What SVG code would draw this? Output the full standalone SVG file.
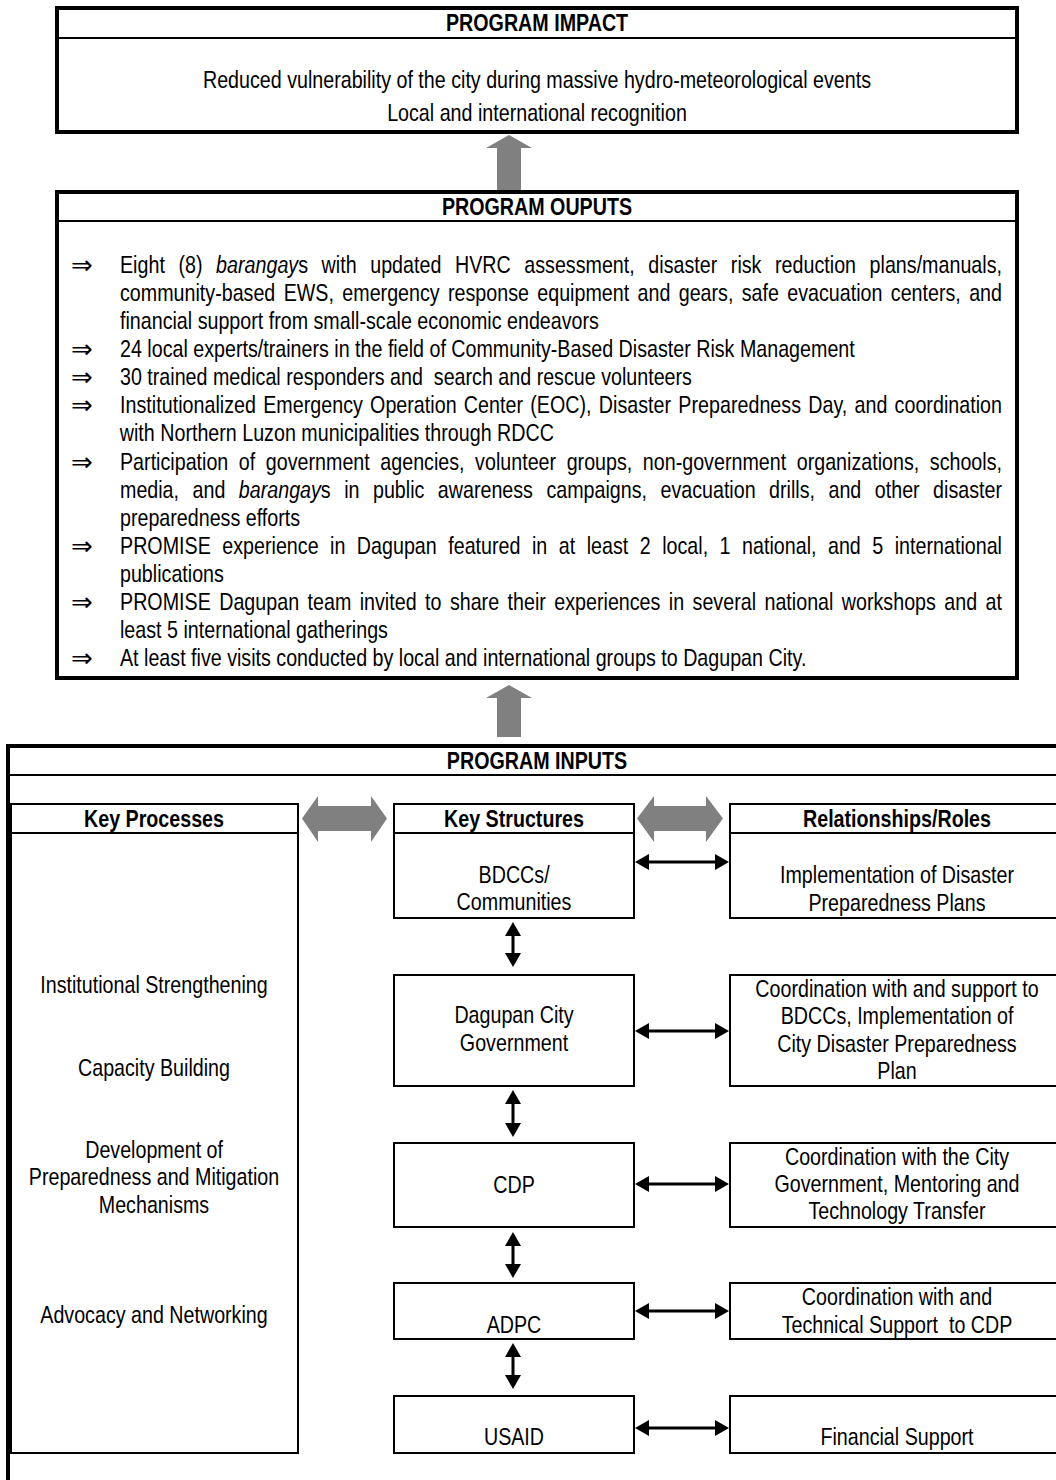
<svg xmlns="http://www.w3.org/2000/svg" width="1056" height="1480" viewBox="0 0 1056 1480">
<defs>
<style>
.t{font-family:'Liberation Sans Narrow','Arial Narrow','Liberation Sans',Arial,sans-serif;font-size:24px;fill:#000;white-space:pre;transform-box:fill-box;transform:scaleX(0.82);transform-origin:50% 50%}
.l{transform-origin:0 50%}
.b{font-weight:bold}
.c{text-anchor:middle}
.sym{font-family:'DejaVu Sans',sans-serif;font-size:26px;fill:#000}
.outer{fill:#fff;stroke:#000;stroke-width:4}
.box{fill:#fff;stroke:#000;stroke-width:2}
.sep{stroke:#000;stroke-width:2}
.gray{fill:#808080;stroke:none}
.con{stroke:#000;stroke-width:3;fill:none}
</style>
<marker id="ah" viewBox="0 0 14 16" refX="0" refY="8" markerWidth="14" markerHeight="16" markerUnits="userSpaceOnUse" orient="auto-start-reverse">
<path d="M0,0 L14,8 L0,16 z" fill="#000"/>
</marker>
</defs>
<rect width="1056" height="1480" fill="#fff"/>

<g id="impact">
<rect class="outer" x="57" y="8" width="960" height="124"/>
<line class="sep" x1="57" y1="38" x2="1017" y2="38"/>
<text class="t b c" x="537" y="31">PROGRAM IMPACT</text>
<text class="t c" x="537" y="88">Reduced vulnerability of the city during massive hydro-meteorological events</text>
<text class="t c" x="537" y="121">Local and international recognition</text>
</g>

<g id="outputs">
<rect class="outer" x="57" y="192" width="960" height="486"/>
<line class="sep" x1="57" y1="221" x2="1017" y2="221"/>
<text class="t b c" x="537" y="215">PROGRAM OUPUTS</text>
<g class="sym">
<text x="71" y="274">⇒</text>
<text x="71" y="358">⇒</text>
<text x="71" y="386">⇒</text>
<text x="71" y="414">⇒</text>
<text x="71" y="471">⇒</text>
<text x="71" y="555">⇒</text>
<text x="71" y="611">⇒</text>
<text x="71" y="667">⇒</text>
</g>
<text class="t l" x="120" y="273" style="word-spacing:9.9px" textLength="1075.6" lengthAdjust="spacing">Eight (8) <tspan font-style="italic">barangay</tspan>s with updated HVRC assessment, disaster risk reduction plans/manuals,</text>
<text class="t l" x="120" y="301" style="word-spacing:3.5px" textLength="1075.6" lengthAdjust="spacing">community-based EWS, emergency response equipment and gears, safe evacuation centers, and</text>
<text class="t l" x="120" y="329">financial support from small-scale economic endeavors</text>
<text class="t l" x="120" y="357">24 local experts/trainers in the field of Community-Based Disaster Risk Management</text>
<text class="t l" x="120" y="385">30 trained medical responders and  search and rescue volunteers</text>
<text class="t l" x="120" y="413" style="word-spacing:2.1px" textLength="1075.6" lengthAdjust="spacing">Institutionalized Emergency Operation Center (EOC), Disaster Preparedness Day, and coordination</text>
<text class="t l" x="120" y="441">with Northern Luzon municipalities through RDCC</text>
<text class="t l" x="120" y="470" style="word-spacing:6.2px" textLength="1075.6" lengthAdjust="spacing">Participation of government agencies, volunteer groups, non-government organizations, schools,</text>
<text class="t l" x="120" y="498" style="word-spacing:9.8px" textLength="1075.6" lengthAdjust="spacing">media, and <tspan font-style="italic">barangay</tspan>s in public awareness campaigns, evacuation drills, and other disaster</text>
<text class="t l" x="120" y="526">preparedness efforts</text>
<text class="t l" x="120" y="554" style="word-spacing:7.3px" textLength="1075.6" lengthAdjust="spacing">PROMISE experience in Dagupan featured in at least 2 local, 1 national, and 5 international</text>
<text class="t l" x="120" y="582">publications</text>
<text class="t l" x="120" y="610" style="word-spacing:3.6px" textLength="1075.6" lengthAdjust="spacing">PROMISE Dagupan team invited to share their experiences in several national workshops and at</text>
<text class="t l" x="120" y="638">least 5 international gatherings</text>
<text class="t l" x="120" y="666">At least five visits conducted by local and international groups to Dagupan City.</text>
</g>

<g id="inputs">
<rect class="outer" x="8" y="746" width="1060" height="760"/>
<line class="sep" x1="8" y1="775" x2="1056" y2="775"/>
<text class="t b c" x="537" y="769">PROGRAM INPUTS</text>
</g>

<g id="key-processes">
<rect class="box" x="11" y="804" width="287" height="649"/>
<line class="sep" x1="11" y1="833" x2="298" y2="833"/>
<text class="t b c" x="154" y="827">Key Processes</text>
<text class="t c" x="154" y="993">Institutional Strengthening</text>
<text class="t c" x="154" y="1076">Capacity Building</text>
<text class="t c" x="154" y="1158">Development of</text>
<text class="t c" x="154" y="1185">Preparedness and Mitigation</text>
<text class="t c" x="154" y="1213">Mechanisms</text>
<text class="t c" x="154" y="1323">Advocacy and Networking</text>
</g>

<g id="bdccs">
<rect class="box" x="394" y="804" width="240" height="114"/>
<line class="sep" x1="394" y1="833" x2="634" y2="833"/>
<text class="t b c" x="514" y="827">Key Structures</text>
<text class="t c" x="514" y="883">BDCCs/</text>
<text class="t c" x="514" y="910">Communities</text>
</g>
<g id="dagupan">
<rect class="box" x="394" y="975" width="240" height="111"/>
<text class="t c" x="514" y="1023">Dagupan City</text>
<text class="t c" x="514" y="1051">Government</text>
</g>
<g id="cdp">
<rect class="box" x="394" y="1143" width="240" height="84"/>
<text class="t c" x="514" y="1193">CDP</text>
</g>
<g id="adpc">
<rect class="box" x="394" y="1283" width="240" height="56"/>
<text class="t c" x="514" y="1333">ADPC</text>
</g>
<g id="usaid">
<rect class="box" x="394" y="1396" width="240" height="57"/>
<text class="t c" x="514" y="1445">USAID</text>
</g>

<g id="role-bdccs">
<rect class="box" x="730" y="804" width="334" height="114"/>
<line class="sep" x1="730" y1="833" x2="1064" y2="833"/>
<text class="t b c" x="897" y="827">Relationships/Roles</text>
<text class="t c" x="897" y="883">Implementation of Disaster</text>
<text class="t c" x="897" y="911">Preparedness Plans</text>
</g>
<g id="role-dagupan">
<rect class="box" x="730" y="975" width="334" height="111"/>
<text class="t c" x="897" y="997">Coordination with and support to</text>
<text class="t c" x="897" y="1024">BDCCs, Implementation of</text>
<text class="t c" x="897" y="1052">City Disaster Preparedness</text>
<text class="t c" x="897" y="1079">Plan</text>
</g>
<g id="role-cdp">
<rect class="box" x="730" y="1143" width="334" height="84"/>
<text class="t c" x="897" y="1165">Coordination with the City</text>
<text class="t c" x="897" y="1192">Government, Mentoring and</text>
<text class="t c" x="897" y="1219">Technology Transfer</text>
</g>
<g id="role-adpc">
<rect class="box" x="730" y="1283" width="334" height="56"/>
<text class="t c" x="897" y="1305">Coordination with and</text>
<text class="t c" x="897" y="1333">Technical Support  to CDP</text>
</g>
<g id="role-usaid">
<rect class="box" x="730" y="1396" width="334" height="57"/>
<text class="t c" x="897" y="1445">Financial Support</text>
</g>

<g id="connectors">
<polygon class="gray" points="509,135 532,148 521,148 521,190 497,190 497,148 486,148"/>
<polygon class="gray" points="509,685 532,698 521,698 521,737 497,737 497,698 486,698"/>
<polygon class="gray" points="302,818.5 318,796 318,806 371,806 371,796 387,818.5 371,842 371,831 318,831 318,842"/>
<polygon class="gray" points="637,818.5 654,796 654,806 706,806 706,796 723,818.5 706,842 706,831 654,831 654,842"/>
<line class="con" x1="649" y1="862" x2="715" y2="862" marker-start="url(#ah)" marker-end="url(#ah)"/>
<line class="con" x1="649" y1="1031" x2="715" y2="1031" marker-start="url(#ah)" marker-end="url(#ah)"/>
<line class="con" x1="649" y1="1184" x2="715" y2="1184" marker-start="url(#ah)" marker-end="url(#ah)"/>
<line class="con" x1="649" y1="1311" x2="715" y2="1311" marker-start="url(#ah)" marker-end="url(#ah)"/>
<line class="con" x1="649" y1="1428" x2="715" y2="1428" marker-start="url(#ah)" marker-end="url(#ah)"/>
<line class="con" x1="513" y1="936" x2="513" y2="953" marker-start="url(#ah)" marker-end="url(#ah)"/>
<line class="con" x1="513" y1="1104" x2="513" y2="1123" marker-start="url(#ah)" marker-end="url(#ah)"/>
<line class="con" x1="513" y1="1246" x2="513" y2="1264" marker-start="url(#ah)" marker-end="url(#ah)"/>
<line class="con" x1="513" y1="1357" x2="513" y2="1375" marker-start="url(#ah)" marker-end="url(#ah)"/>
</g>
</svg>
